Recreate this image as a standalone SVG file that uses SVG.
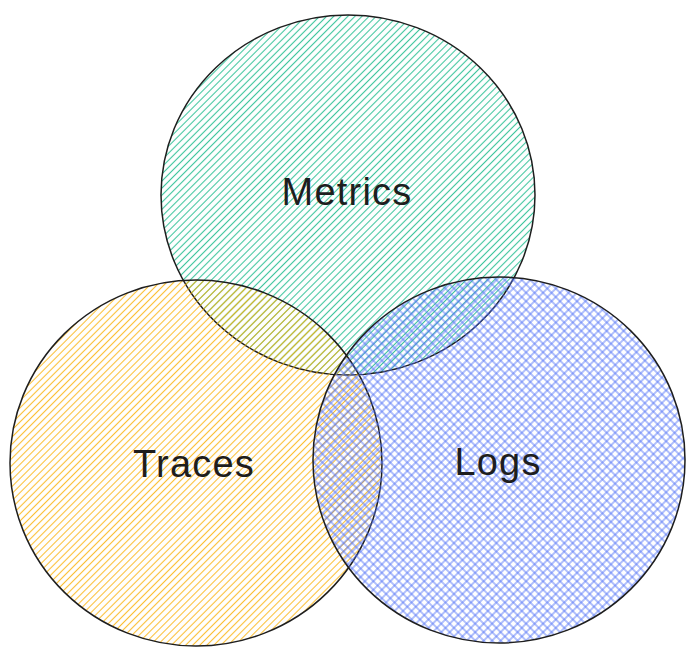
<svg xmlns="http://www.w3.org/2000/svg" width="695" height="656" viewBox="0 0 695 656">
<style>
.outline{fill:none;stroke:#1e1e1e;stroke-width:1.5}
.label{font-family:"Liberation Sans",Arial,sans-serif;font-size:38px;letter-spacing:1.2px;fill:#1e1e1e;text-anchor:middle}
</style>
<defs>
<pattern id="hGreen" width="5" height="5" patternUnits="userSpaceOnUse" patternTransform="rotate(-45)">
<line x1="0" y1="2.5" x2="5" y2="2.5" stroke="#12b886" stroke-width="1.1" stroke-opacity="0.8"/>
</pattern>
<pattern id="hYellow" width="5" height="5" patternUnits="userSpaceOnUse" patternTransform="rotate(-45)">
<line x1="0" y1="2.5" x2="5" y2="2.5" stroke="#fab005" stroke-width="1.1" stroke-opacity="0.8"/>
</pattern>
<pattern id="hBlue" width="6" height="6" patternUnits="userSpaceOnUse" patternTransform="rotate(-45)">
<line x1="0" y1="3" x2="6" y2="3" stroke="#4c6ef5" stroke-width="1.1" stroke-opacity="0.8"/>
<line x1="3" y1="0" x2="3" y2="6" stroke="#4c6ef5" stroke-width="1.1" stroke-opacity="0.8"/>
</pattern>
</defs>
<g id="metrics">
<ellipse cx="348" cy="195" rx="187" ry="180" fill="url(#hGreen)"/>
<ellipse class="outline" cx="348" cy="195" rx="187" ry="180"/>
<text class="label" x="347" y="205">Metrics</text>
</g>
<g id="traces">
<ellipse cx="196" cy="463" rx="186" ry="183" fill="url(#hYellow)"/>
<ellipse class="outline" cx="196" cy="463" rx="186" ry="183"/>
<text class="label" x="194" y="477">Traces</text>
</g>
<g id="logs">
<ellipse cx="499" cy="460" rx="186" ry="183" fill="url(#hBlue)"/>
<ellipse class="outline" cx="499" cy="460" rx="186" ry="183"/>
<text class="label" x="498" y="475">Logs</text>
</g>
<g id="connectors"></g>
</svg>
